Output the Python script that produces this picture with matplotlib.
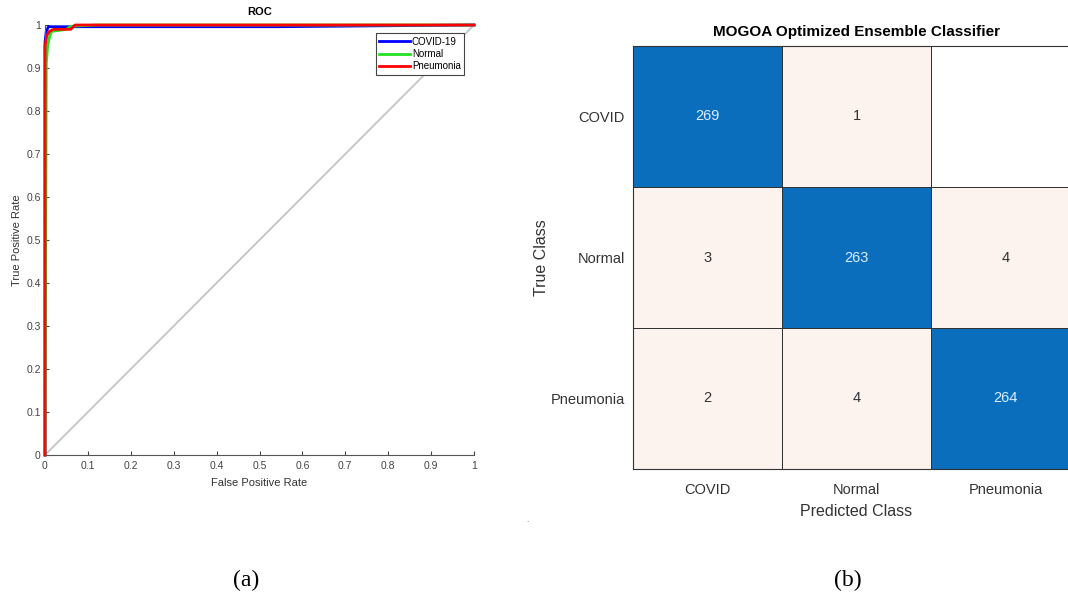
import matplotlib
matplotlib.use("Agg")
import matplotlib.pyplot as plt
import numpy as np
from matplotlib.colors import ListedColormap, BoundaryNorm

plt.rcParams["font.family"] = ["Liberation Sans", "DejaVu Sans"]

# ROC curves
fpr_covid = [0, 0, 0.003, 0.008, 0.54, 1.0]
tpr_covid = [0, 0.96, 0.985, 0.996, 0.996, 1.0]
fpr_normal = [0, 0.003, 0.006, 0.01, 0.015, 0.05, 0.06, 0.12, 1.0]
tpr_normal = [0, 0.91, 0.95, 0.97, 0.985, 0.99, 0.997, 1.0, 1.0]
fpr_pneu = [0, 0, 0.004, 0.01, 0.02, 0.06, 0.07, 1.0]
tpr_pneu = [0, 0.95, 0.975, 0.985, 0.99, 0.99, 1.0, 1.0]
roc_labels = ["COVID-19", "Normal", "Pneumonia"]
ticks = [0, 0.1, 0.2, 0.3, 0.4, 0.5, 0.6, 0.7, 0.8, 0.9, 1]
tick_labels = ["0", "0.1", "0.2", "0.3", "0.4", "0.5", "0.6", "0.7", "0.8", "0.9", "1"]

# confusion matrix
classes = ["COVID", "Normal", "Pneumonia"]
conf = np.array([[269, 1, 0],
                 [3, 263, 4],
                 [2, 4, 264]])

W, H = 1068, 602
fig = plt.figure(figsize=(W / 100, H / 100), dpi=100)

# ---- (a) ROC ----
ax1 = fig.add_axes([45 / W, (H - 455) / H, 429 / W, 430 / H])
ax1.plot([0, 1], [0, 1], color="#c4c4c4", lw=1.3)
ax1.plot(fpr_covid, tpr_covid, color="#0000ff", lw=2, label=roc_labels[0], clip_on=False)
ax1.plot(fpr_normal, tpr_normal, color="#22e022", lw=2, label=roc_labels[1], clip_on=False)
ax1.plot(fpr_pneu, tpr_pneu, color="#ff0000", lw=2, label=roc_labels[2], clip_on=False)
ax1.set_xlim(0, 1)
ax1.set_ylim(0, 1)
ax1.set_xticks(ticks)
ax1.set_xticklabels(tick_labels)
ax1.set_yticks(ticks)
ax1.set_yticklabels(tick_labels)
ax1.tick_params(direction="in", length=3, labelsize=7.5, colors="#444444", pad=3)
ax1.tick_params(axis="x", pad=4)
for s in ["top", "right"]:
    ax1.spines[s].set_visible(False)
for s in ["left", "bottom"]:
    ax1.spines[s].set_color("#555555")
ax1.set_xlabel("False Positive Rate", fontsize=8, color="#333333", labelpad=5)
ax1.set_ylabel("True Positive Rate", fontsize=8, color="#333333", labelpad=3)
ax1.set_title("ROC", fontsize=8, fontweight="bold", pad=7)
leg = ax1.legend(loc="upper right", bbox_to_anchor=(0.977, 0.981), borderaxespad=0,
                 fontsize=7, handlelength=3.2, handletextpad=0.15, borderpad=0.35,
                 labelspacing=0.25, fancybox=False, framealpha=1)
leg.get_frame().set_edgecolor("#444444")
leg.get_frame().set_linewidth(0.8)

# ---- (b) confusion matrix ----
cell_w, cell_h = 149, 141
ax2 = fig.add_axes([633 / W, (H - 469) / H, 3 * cell_w / W, 3 * cell_h / H])
cmap = ListedColormap(["#ffffff", "#fcf2ee", "#0a6ebd"])
norm = BoundaryNorm([0, 0.5, 100, 1000], cmap.N)
ax2.pcolormesh(np.arange(4), np.arange(4), conf, cmap=cmap, norm=norm,
               edgecolor="#333333", linewidth=0.6)
ax2.set_xlim(0, 3)
ax2.set_ylim(3, 0)
for i in range(3):
    for j in range(3):
        v = conf[i, j]
        if v == 0:
            continue
        col = "#dbeeff" if v > 100 else "#333333"
        ax2.text(j + 0.5, i + 0.5, str(v), ha="center", va="center",
                 fontsize=10.5, color=col)
ax2.set_xticks(np.arange(3) + 0.5)
ax2.set_xticklabels(classes)
ax2.set_yticks(np.arange(3) + 0.5)
ax2.set_yticklabels(classes)
ax2.tick_params(length=0, labelsize=10.5, colors="#333333", pad=6)
ax2.tick_params(axis="x", pad=10)
for s in ax2.spines.values():
    s.set_color("#333333")
    s.set_linewidth(0.8)
ax2.set_xlabel("Predicted Class", fontsize=11.5, color="#333333", labelpad=5)
ax2.set_ylabel("True Class", fontsize=11.5, color="#333333", labelpad=1)
ax2.set_title("MOGOA Optimized Ensemble Classifier", fontsize=11,
              fontweight="bold", pad=7)

# captions
fig.text(246 / W, 1 - 580 / H, "(a)", ha="center", va="center",
         fontsize=17, family="Liberation Serif")
fig.text(848 / W, 1 - 580 / H, "(b)", ha="center", va="center",
         fontsize=17, family="Liberation Serif")
fig.text(527 / W, 1 - 521 / H, ".", ha="center", va="center", fontsize=6, color="#555555")

fig.savefig("out.png", dpi=100)
